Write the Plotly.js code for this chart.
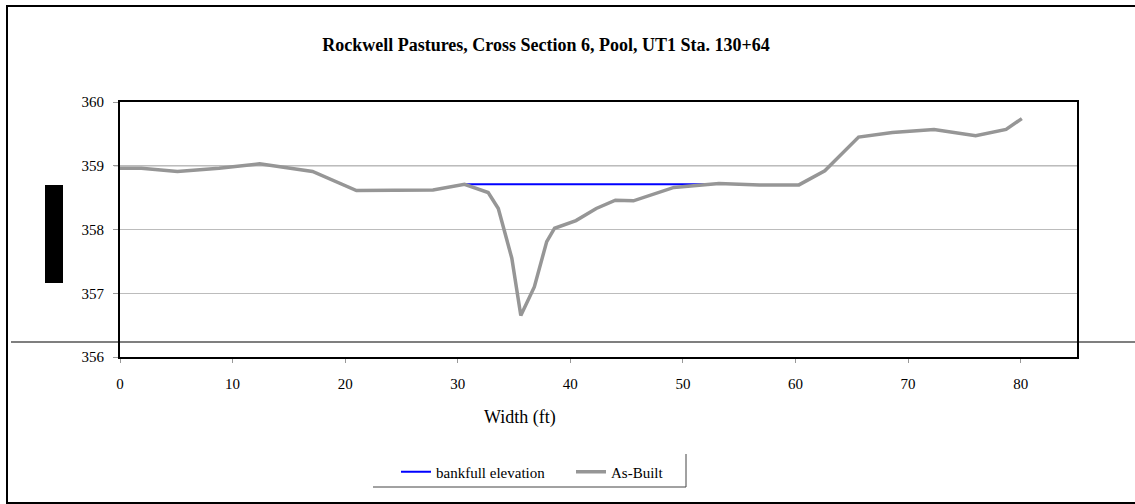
<!DOCTYPE html>
<html>
<head>
<meta charset="utf-8">
<script src="https://cdn.plot.ly/plotly-3.0.1.min.js"></script>
<style>html,body{margin:0;padding:0;background:#fff;}#chart{width:1135px;height:504px;}</style>
</head>
<body>
<div id="chart"></div>
<script>
// Bankfull elevation
const bankfullX = [30.7, 52.0];
const bankfullY = [358.71, 358.71];

// As-Built survey
const asBuiltX = [0, 1.9, 5.1, 8.8, 12.4, 17.1, 21.0, 24.6, 27.8, 30.6, 32.7, 33.6, 34.0, 34.8, 35.6, 36.8, 37.9, 38.6, 40.5, 42.3, 44.0, 45.6, 49.2, 53.2, 56.8, 60.3, 62.6, 65.6, 68.6, 72.3, 76.0, 78.7, 80.1];
const asBuiltY = [358.96, 358.96, 358.91, 358.96, 359.03, 358.91, 358.61, 358.62, 358.62, 358.71, 358.58, 358.33, 358.07, 357.55, 356.65, 357.10, 357.81, 358.02, 358.14, 358.33, 358.46, 358.45, 358.66, 358.72, 358.70, 358.70, 358.92, 359.45, 359.52, 359.57, 359.47, 359.57, 359.74];

const xTicks = [0, 10, 20, 30, 40, 50, 60, 70, 80];
const yTicks = [356, 357, 358, 359, 360];

const W = 1135, H = 504;
const L = 120, R = 1077, T = 102, B = 357;
const px = v => (v - L) / (R - L);
const py = v => (B - v) / (B - T);

const FONT = "Liberation Serif, 'Times New Roman', serif";

const traces = [
  {x: bankfullX, y: bankfullY, mode: 'lines', name: 'bankfull elevation',
   line: {color: '#0000ff', width: 2.2}},
  {x: asBuiltX, y: asBuiltY, mode: 'lines', name: 'As-Built',
   line: {color: '#969696', width: 3.5}}
];

const shapes = [
  // outer frame
  {type: 'rect', xref: 'paper', yref: 'paper', x0: px(7), x1: px(1145), y0: py(503), y1: py(6),
   line: {color: '#000', width: 2}, layer: 'below'},
  // darker 359 gridline
  {type: 'line', xref: 'paper', yref: 'y', x0: px(114), x1: 1, y0: 359, y1: 359,
   line: {color: '#6e6e6e', width: 1.2}, layer: 'below'},
  // horizontal line across chart
  {type: 'line', xref: 'paper', yref: 'paper', x0: px(11), x1: px(1140), y0: py(342), y1: py(342),
   line: {color: '#000', width: 1.2}},
  // black block at left
  {type: 'rect', xref: 'paper', yref: 'paper', x0: px(45), x1: px(63), y0: py(283), y1: py(185),
   fillcolor: '#000', line: {width: 0}},
  // legend box borders (right and bottom)
  {type: 'line', xref: 'paper', yref: 'paper', x0: px(686), x1: px(686), y0: py(454), y1: py(487),
   line: {color: '#444', width: 1}},
  {type: 'line', xref: 'paper', yref: 'paper', x0: px(373), x1: px(686), y0: py(487), y1: py(487),
   line: {color: '#444', width: 1}}
];

const layout = {
  width: W, height: H,
  margin: {l: L, r: W - R, t: T, b: H - B},
  paper_bgcolor: '#fff', plot_bgcolor: '#fff',
  font: {family: FONT, color: '#000', size: 15},
  title: {text: '<b>Rockwell Pastures, Cross Section 6, Pool, UT1 Sta. 130+64</b>',
          font: {family: FONT, size: 18, color: '#000'},
          xref: 'paper', x: px(546), xanchor: 'center',
          yref: 'container', y: 1 - 45 / H, yanchor: 'middle'},
  xaxis: {range: [0, 85], tickvals: xTicks, ticktext: xTicks.map(String),
          showgrid: false, zeroline: false,
          showline: true, linecolor: '#000', linewidth: 2, mirror: true,
          ticks: 'outside', ticklen: 4, tickcolor: '#999', tickwidth: 1,
          tickfont: {family: FONT, size: 15}, ticklabelstandoff: 8,
          title: {text: '', font: {family: FONT, size: 18}}},
  yaxis: {range: [356, 360], tickvals: yTicks, ticktext: yTicks.map(String),
          showgrid: true, gridcolor: '#bcbcbc', gridwidth: 1, zeroline: false,
          showline: true, linecolor: '#000', linewidth: 2, mirror: true,
          ticks: 'outside', ticklen: 5, tickcolor: '#999', tickwidth: 1,
          tickfont: {family: FONT, size: 15}, ticklabelstandoff: 6},
  annotations: [
    {text: 'Width (ft)', xref: 'paper', yref: 'paper', x: px(520), y: py(417),
     xanchor: 'center', yanchor: 'middle', showarrow: false,
     font: {family: FONT, size: 18, color: '#000'}}
  ],
  showlegend: true,
  legend: {orientation: 'h', x: px(396), xanchor: 'left', y: py(472), yanchor: 'middle',
           font: {family: FONT, size: 15}, bgcolor: 'rgba(0,0,0,0)', borderwidth: 0,
           entrywidth: 130, entrywidthmode: 'pixels', tracegroupgap: 0},
  shapes: shapes
};

Plotly.newPlot('chart', traces, layout, {displayModeBar: false, staticPlot: true});
</script>
</body>
</html>
